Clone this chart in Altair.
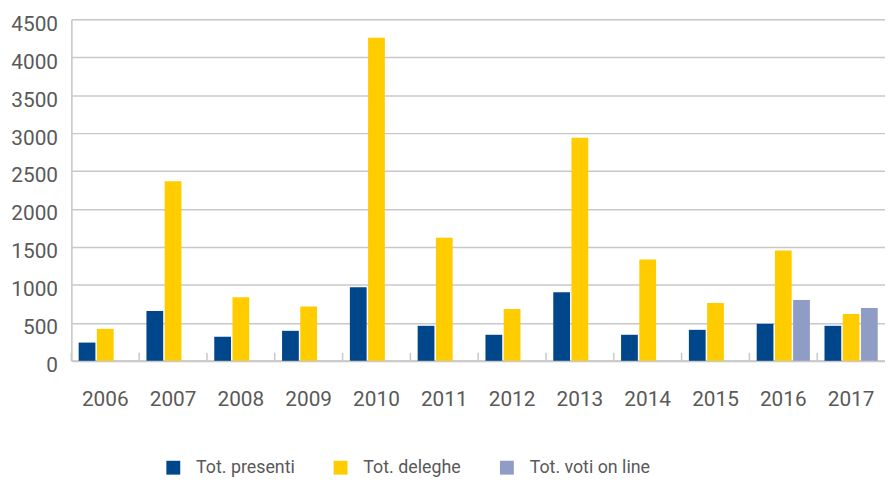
import altair as alt
import pandas as pd

years = ["2006", "2007", "2008", "2009", "2010", "2011", "2012", "2013", "2014", "2015", "2016", "2017"]
presenti = [240, 655, 317, 395, 969, 461, 343, 904, 343, 408, 487, 461]
deleghe = [421, 2365, 839, 717, 4256, 1621, 682, 2939, 1335, 761, 1452, 617]
voti_online = [None, None, None, None, None, None, None, None, None, None, 800, 695]
series_names = ["Tot. presenti", "Tot. deleghe", "Tot. voti on line"]
series_colors = ["#00468B", "#FFCC00", "#8E9CC6"]
y_ticks = [0, 500, 1000, 1500, 2000, 2500, 3000, 3500, 4000, 4500]

rows = []
for name, vals in zip(series_names, [presenti, deleghe, voti_online]):
    for y, v in zip(years, vals):
        if v is not None:
            rows.append({"year": y, "serie": name, "value": v})
df = pd.DataFrame(rows)
tick_df = pd.DataFrame({"year": years})

FONT = "Roboto"
TXT = "#595959"
GRID = "#c8c8c8"

y_scale = alt.Scale(domain=[0, 4500], nice=False)
y_axis = alt.Axis(
    title=None, values=y_ticks, format="d", labelOverlap=False,
    ticks=False, labelPadding=14, labelOffset=5,
    labelFontSize=21, labelColor=TXT, labelFont=FONT,
    gridColor=GRID, gridWidth=1.5, domainColor=GRID, domainWidth=1.5,
)

x_enc = alt.X(
    "year:N",
    sort=years,
    scale=alt.Scale(paddingInner=0, paddingOuter=0),
    axis=alt.Axis(
        title=None, labelAngle=0, ticks=False, labelPadding=28,
        labelFontSize=21, labelColor=TXT, labelFont=FONT,
        domainColor=GRID, domainWidth=2, grid=False,
    ),
)

bars = alt.Chart(df).mark_bar().encode(
    x=x_enc,
    xOffset=alt.XOffset("serie:N", sort=series_names,
                        scale=alt.Scale(domain=series_names, paddingInner=0.08, paddingOuter=0.4)),
    y=alt.Y("value:Q", scale=y_scale, axis=y_axis),
    color=alt.Color(
        "serie:N",
        sort=series_names,
        scale=alt.Scale(domain=series_names, range=series_colors),
        legend=alt.Legend(
            title=None, orient="none", direction="horizontal", legendX=94, legendY=444,
            symbolType="square", symbolSize=196, symbolStrokeWidth=0, symbolOpacity=1,
            labelFontSize=18, labelColor=TXT, labelFont=FONT, labelOffset=14,
            columnPadding=37,
        ),
    ),
)

tick_marks = alt.Chart(tick_df).mark_rule(color=GRID, strokeWidth=1.5).encode(
    x=alt.X("year:N", sort=years, bandPosition=0),
    y=alt.YDatum(0, scale=y_scale, axis=y_axis),
    y2=alt.datum(105),
)

chart = alt.layer(bars, tick_marks).properties(
    width=822, height=345,
    padding={"left": 2, "top": 3, "right": 0, "bottom": 0},
).configure_view(stroke=None).configure(font=FONT)

chart.save("out.html", embed_options={"renderer": "svg", "actions": False})
